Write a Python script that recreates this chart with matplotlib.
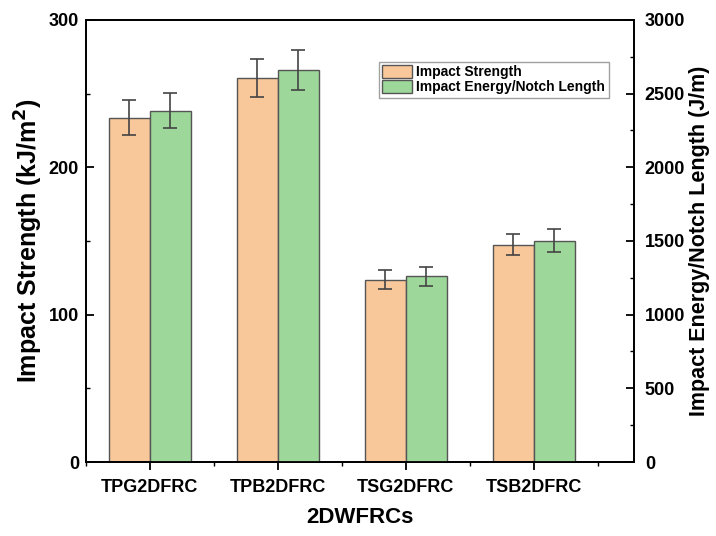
import numpy as np
import matplotlib.pyplot as plt
from matplotlib.ticker import MultipleLocator

plt.rcParams['font.family'] = ['Liberation Sans', 'DejaVu Sans']
plt.rcParams['font.weight'] = 'bold'

# ---- data ----
categories = ['TPG2DFRC', 'TPB2DFRC', 'TSG2DFRC', 'TSB2DFRC']
impact_strength = [233.5, 260.7, 123.8, 147.5]        # kJ/m^2
impact_strength_err = [11.8, 13.0, 6.5, 7.3]
energy_notch = [2383, 2661, 1260, 1502]               # J/m
energy_notch_err = [118, 135, 66, 77]

orange = '#F9C89A'
green = '#9DD79A'
edge = '#555555'

fig = plt.figure(figsize=(7.16, 5.36), dpi=100)
ax = fig.add_axes([0.120, 0.138, 0.765, 0.825])
ax2 = ax.twinx()

x = np.arange(1, len(categories) + 1)
w = 0.32

b1 = ax.bar(x - w / 2, impact_strength, w, color=orange, edgecolor=edge, linewidth=1.0,
            label='Impact Strength')
ax.errorbar(x - w / 2, impact_strength, yerr=impact_strength_err, fmt='none',
            ecolor='#444444', elinewidth=1.2, capsize=5, capthick=1.2)

b2 = ax2.bar(x + w / 2, energy_notch, w, color=green, edgecolor=edge, linewidth=1.0,
             label='Impact Energy/Notch Length')
ax2.errorbar(x + w / 2, energy_notch, yerr=energy_notch_err, fmt='none',
             ecolor='#444444', elinewidth=1.2, capsize=5, capthick=1.2)

# ---- axes ----
ax.set_xlim(0.5, 4.78)
ax.set_ylim(0, 300)
ax2.set_ylim(0, 3000)
ax.set_xticks(x)
ax.set_xticklabels(categories)
ax.xaxis.set_minor_locator(MultipleLocator(0.5))
ax.yaxis.set_major_locator(MultipleLocator(100))
ax.yaxis.set_minor_locator(MultipleLocator(50))
ax2.yaxis.set_major_locator(MultipleLocator(500))
ax2.yaxis.set_minor_locator(MultipleLocator(250))

ax.tick_params(axis='x', which='major', direction='out', length=6, width=1.3, labelsize=13, pad=6)
ax.tick_params(axis='x', which='minor', direction='out', length=3, width=1.0)
ax.tick_params(axis='y', which='major', direction='in', length=6, width=1.3, labelsize=13, pad=5)
ax.tick_params(axis='y', which='minor', direction='in', length=3, width=1.0)
ax2.tick_params(axis='y', which='major', direction='in', length=6, width=1.3, labelsize=13, pad=8)
ax2.tick_params(axis='y', which='minor', direction='in', length=3, width=1.0)

for a in (ax, ax2):
    for s in a.spines.values():
        s.set_linewidth(1.3)

ax.set_xlabel('2DWFRCs', fontsize=16, fontweight='bold', labelpad=8)
ax.set_ylabel('Impact Strength (kJ/m$\\mathbf{^2}$)', fontsize=18, fontweight='bold', labelpad=3)
ax2.set_ylabel('Impact Energy/Notch Length (J/m)', fontsize=15.5, fontweight='bold', labelpad=3)

leg = ax2.legend(handles=[b1, b2], loc='upper left', bbox_to_anchor=(0.535, 0.905),
                 frameon=True, fancybox=False, edgecolor='#888888',
                 borderpad=0.25, handlelength=2.1, handleheight=1.05, handletextpad=0.35,
                 labelspacing=0.05, borderaxespad=0, prop={'weight': 'bold', 'size': 10})
leg.get_frame().set_linewidth(1.0)

plt.savefig('out.png', dpi=100)
